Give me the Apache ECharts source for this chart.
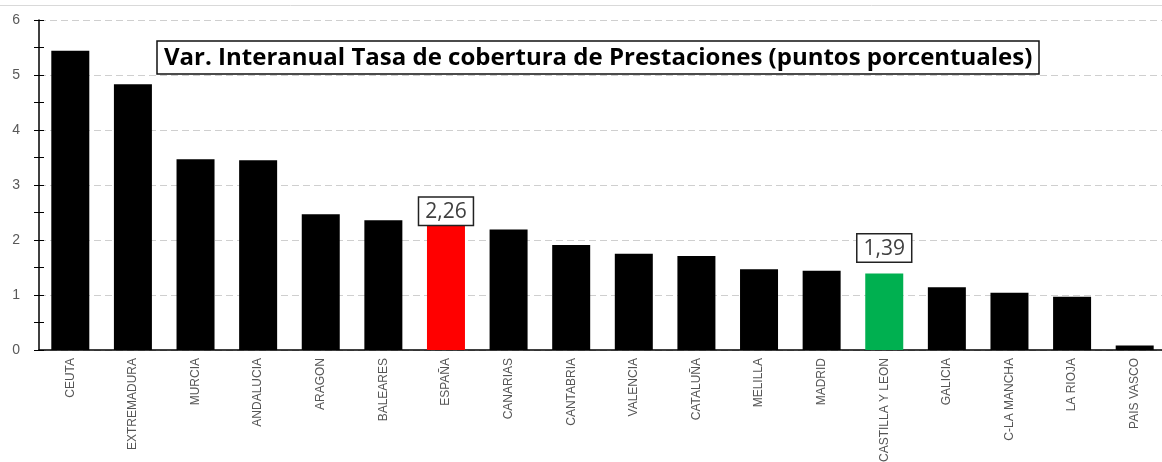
<!DOCTYPE html>
<html>
<head>
<meta charset="utf-8">
<script src="https://cdn.jsdelivr.net/npm/echarts@6/dist/echarts.min.js"></script>
<style>
  html, body { margin: 0; padding: 0; background: #fff; }
  #chart { width: 1162px; height: 462px; }
</style>
</head>
<body>
<div id="chart"></div>
<script>
  // comunidades, en el orden del gráfico
  const regiones = ['CEUTA', 'EXTREMADURA', 'MURCIA', 'ANDALUCIA', 'ARAGON', 'BALEARES', 'ESPAÑA',
    'CANARIAS', 'CANTABRIA', 'VALENCIA', 'CATALUÑA', 'MELILLA', 'MADRID', 'CASTILLA Y LEON',
    'GALICIA', 'C-LA MANCHA', 'LA RIOJA', 'PAIS VASCO'];
  const variacion = [5.44, 4.83, 3.47, 3.45, 2.47, 2.36, 2.26, 2.19, 1.91, 1.75, 1.71, 1.47, 1.44, 1.39,
    1.14, 1.04, 0.97, 0.08];
  const destacados = { 'ESPAÑA': '#ff0000', 'CASTILLA Y LEON': '#00b050' };
  const titulo = 'Var. Interanual Tasa de cobertura de Prestaciones (puntos porcentuales)';

  // la etiqueta de Castilla y León está algo más separada de su barra
  const separacion = { 'ESPAÑA': 1, 'CASTILLA Y LEON': 12 };

  const datos = variacion.map((v, i) => {
    const color = destacados[regiones[i]];
    if (!color) return v;
    return {
      value: v,
      itemStyle: { color: color },
      label: { show: true, distance: separacion[regiones[i]] }
    };
  });

  const ejeY = {
    type: 'value',
    min: 0,
    max: 6,
    position: 'left',
    axisLine: { show: false },
    axisTick: { show: false },
    axisLabel: { show: false },
    splitLine: { show: false }
  };

  const chart = echarts.init(document.getElementById('chart'));
  chart.setOption({
    animation: false,
    title: {
      text: titulo,
      left: 157,
      top: 41,
      padding: [5, 7, 4, 7],
      borderColor: '#111',
      borderWidth: 1.5,
      backgroundColor: '#fff',
      textStyle: {
        fontFamily: 'Open Sans',
        fontWeight: 'bold',
        fontSize: 24,
        color: '#000'
      },
      z: 10
    },
    graphic: [{
      type: 'line',
      shape: { x1: 0, y1: 5.5, x2: 1162, y2: 5.5 },
      style: { stroke: '#d9d9d9', lineWidth: 1 }
    }],
    // el eje continúa un poco más allá del borde derecho, como en el original
    grid: { left: 39, top: 20, width: 1127, height: 330, outerBoundsMode: 'none' },
    xAxis: {
      type: 'category',
      data: regiones,
      axisLine: { lineStyle: { color: '#000', width: 1.5 } },
      axisTick: { length: 5, lineStyle: { color: '#000' } },
      axisLabel: {
        rotate: 90,
        interval: 0,
        margin: 8,
        fontFamily: 'Liberation Sans',
        fontSize: 12,
        color: '#555'
      }
    },
    yAxis: [
      // línea, etiquetas y marcas exteriores
      Object.assign({}, ejeY, {
        interval: 0.5,
        axisLine: { show: true, lineStyle: { color: '#000', width: 1.5 } },
        axisTick: { show: true, length: 5, lineStyle: { color: '#000' } },
        axisLabel: {
          show: true,
          formatter: v => (Number.isInteger(v) ? String(v) : ''),
          fontFamily: 'Liberation Sans',
          fontSize: 14,
          color: '#595959',
          margin: 19
        }
      }),
      // marcas interiores
      Object.assign({}, ejeY, {
        interval: 0.5,
        axisTick: { show: true, inside: true, length: 5, lineStyle: { color: '#000' } }
      }),
      // líneas de división
      Object.assign({}, ejeY, {
        interval: 1,
        splitLine: { show: true, lineStyle: { color: '#cfcfcf', type: [7, 4] } }
      })
    ],
    series: [{
      type: 'bar',
      data: datos,
      barWidth: 38,
      itemStyle: { color: '#000' },
      label: {
        show: false,
        position: 'top',
        formatter: p => p.value.toFixed(2).replace('.', ','),
        fontFamily: 'Open Sans',
        fontSize: 21,
        color: '#404040',
        backgroundColor: '#fff',
        borderColor: '#222',
        borderWidth: 1.5,
        padding: [4, 6, 2, 6]
      },
      z: 5
    }]
  });
</script>
</body>
</html>
